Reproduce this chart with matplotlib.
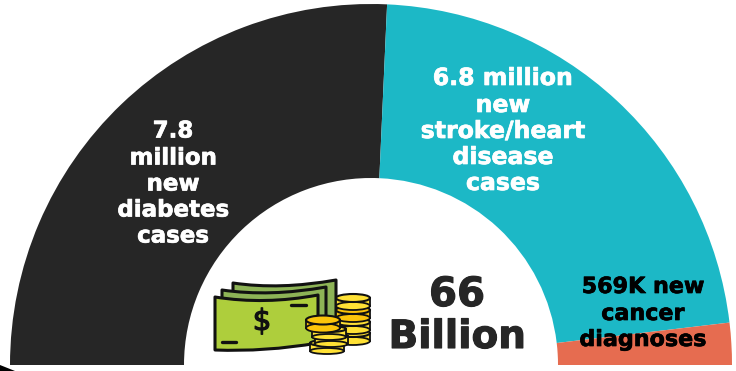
import matplotlib
matplotlib.use("Agg")
from matplotlib import pyplot as plt
from matplotlib import patheffects
from matplotlib.patches import Ellipse, PathPatch, Polygon, Rectangle
from matplotlib.path import Path

# new cases, millions
categories = ["diabetes", "stroke/heart disease", "cancer"]
new_cases = [7.8, 6.8, 0.569]
colors = ["#262626", "#1cb8c6", "#e66c50"]

diabetes_lines = ["7.8", "million", "new", "diabetes", "cases"]
stroke_lines = ["6.8 million", "new", "stroke/heart", "disease", "cases"]
cancer_lines = ["569K new", "cancer", "diagnoses"]
total_lines = ["66", "Billion"]

FONT = "DejaVu Sans"
W, H = 736, 371

fig = plt.figure(figsize=(W / 100, H / 100), dpi=100)

# half donut, the lower half is an invisible slice of the same total
ax = fig.add_axes([0, 0, 1, 1])
ax.pie(new_cases + [sum(new_cases)], colors=colors + ["none"], startangle=180,
       counterclock=False, radius=361, center=(371, 6), frame=True,
       wedgeprops={"width": 174, "linewidth": 0})
ax.set_xlim(0, W)
ax.set_ylim(0, H)
ax.set_aspect("equal")
ax.axis("off")

# overlay in pixel coordinates, y pointing down
ov = fig.add_axes([0, 0, 1, 1])
ov.set_xlim(0, W)
ov.set_ylim(H, 0)
ov.axis("off")
ov.patch.set_alpha(0)

# strip of white below the ring and the small corner mark
ov.add_patch(Rectangle((0, 365), W, 6, color="white", lw=0))
ov.add_patch(Polygon([(0, 365), (15, 371), (0, 371)], color="black", lw=0))


def text_block(lines, x, ys, size, color="white", heavy=0.5):
    # a thin stroke in the text colour makes the bold face look heavier
    for line, y in zip(lines, ys):
        t = ov.text(x, y, line, ha="center", va="center", fontsize=size, color=color,
                    family=FONT, weight="bold")
        t.set_path_effects([patheffects.withStroke(linewidth=heavy, foreground=color)])


text_block(diabetes_lines, 173, [131, 158, 184, 210, 236], 16.5)
text_block(stroke_lines, 503, [78, 105, 131, 157, 183], 17)
text_block(cancer_lines, 643, [287, 314, 340], 16, color="black")
text_block(total_lines[:1], 457, [295], 29, color="#262626", heavy=0.8)
text_block(total_lines[1:], 457, [337], 28, color="#262626", heavy=0.8)

INK = "#111111"
GREEN = "#aece3c"
DARK_GREEN = "#8db356"
GOLD = "#ffe135"
DEEP_GOLD = "#fcc40a"


def bill(left, top, right, bottom, mid_top, mid_bottom, face):
    # top and bottom edges sag slightly between the corners
    xl, yl = left, top[0]
    xr, yr = right, top[1]
    verts = [(xl, yl), (mid_top[0], mid_top[1]), (xr, yr), (xr, bottom[1]),
             (mid_bottom[0], mid_bottom[1]), (xl, bottom[0]), (xl, yl)]
    codes = [Path.MOVETO, Path.CURVE3, Path.CURVE3, Path.LINETO,
             Path.CURVE3, Path.CURVE3, Path.CLOSEPOLY]
    ov.add_patch(PathPatch(Path(verts, codes), fc=face, ec=INK, lw=2.2, joinstyle="round"))


# stack of bills, back to front
bill(233, (283, 280), 336, (325, 325), (280, 290), (280, 325), DARK_GREEN)
bill(222, (290, 287), 326, (330, 330), (270, 297), (270, 330), DARK_GREEN)
bill(215, (297, 295), 318, (350, 343), (265, 305), (265, 352), GREEN)
ov.plot([291, 306], [305, 305], color=INK, lw=2.4, solid_capstyle="round")
ov.plot([222, 236], [342, 342], color=INK, lw=2.4, solid_capstyle="round")
dollar = ov.text(262, 322, "$", ha="center", va="center", fontsize=21, color=INK, family=FONT)
dollar.set_path_effects([patheffects.withStroke(linewidth=0.9, foreground=INK)])


def coin(x, y, w, h, face=GOLD):
    ov.add_patch(Rectangle((x - w / 2, y), w, 8, fc=face, ec=INK, lw=1.3))
    ov.add_patch(Ellipse((x, y + 8), w, h, fc=face, ec=INK, lw=1.3))
    ov.add_patch(Ellipse((x, y), w, h, fc=face, ec=INK, lw=1.5))


# tall pile behind, short pile in front, drawn bottom up
for y, face in [(333, GOLD), (322, GOLD), (310, DEEP_GOLD), (298, GOLD)]:
    coin(353, y, 34, 8, face)
for x, y, w in [(327, 343, 34), (331, 336, 33), (329, 329, 34)]:
    coin(x, y, w, 6)
coin(323, 320, 34, 9, DEEP_GOLD)

fig.savefig("out.png", dpi=100, facecolor="white")
